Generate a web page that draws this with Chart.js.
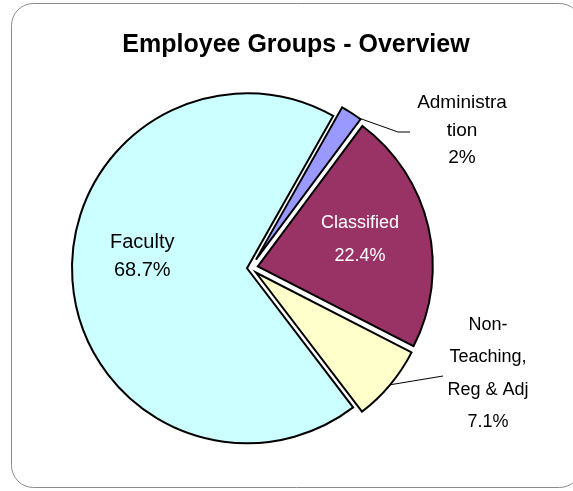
<!DOCTYPE html>
<html>
<head>
<meta charset="utf-8">
<script src="https://cdn.jsdelivr.net/npm/chart.js@4.4.1/dist/chart.umd.min.js"></script>
<style>
html, body { margin: 0; padding: 0; background: #fff; }
</style>
</head>
<body>
<canvas id="pieCanvas" width="573" height="491"></canvas>
<script>
const categories = ["Administration", "Classified", "Non-Teaching, Reg & Adj", "Faculty"];
const shares = [2, 22.4, 7.1, 68.7];
const percentLabels = ["2%", "22.4%", "7.1%", "68.7%"];
// label text as wrapped in the original
const labelLines = [
    ["Administra", "tion"],
    ["Classified"],
    ["Non-", "Teaching,", "Reg & Adj"],
    ["Faculty"]
];
const sliceColors = ["#9999FF", "#993366", "#FFFFCC", "#CCFFFF"];

const FONT = '"Liberation Sans", Arial, sans-serif';

// how far each slice is pulled out of the pie
const explodePlugin = {
    id: "explode",
    afterUpdate(chart, args, opts) {
        const meta = chart.getDatasetMeta(0);
        meta.data.forEach((arc, i) => {
            const mid = (arc.startAngle + arc.endAngle) / 2;
            const d = opts.distances[i] || 0;
            arc.x += Math.cos(mid) * d;
            arc.y += Math.sin(mid) * d;
        });
    }
};

const framePlugin = {
    id: "frame",
    beforeDraw(chart) {
        const ctx = chart.ctx;
        ctx.save();
        ctx.fillStyle = "#fff";
        ctx.fillRect(0, 0, chart.width, chart.height);
        ctx.beginPath();
        ctx.roundRect(11.5, 3.5, 570, 484, 22);
        ctx.strokeStyle = "#8c8c8c";
        ctx.lineWidth = 1;
        ctx.stroke();
        ctx.fillStyle = "#000";
        ctx.font = "bold 25px " + FONT;
        ctx.textAlign = "center";
        ctx.textBaseline = "middle";
        ctx.fillText("Employee Groups - Overview", 296, 45);
        ctx.restore();
    }
};

// per-slice label placement
const labelSetup = [
    { inside: false, dx: 211.5, dy: -165, size: 19, lh: 27.5, color: "#000",
      leaderFrac: 0.9, elbow: [147.5, -136], end: [159.5, -136] },
    { inside: true, rf: 0.6, shiftY: -3, size: 18, lh: 33, color: "#fff" },
    { inside: false, dx: 237.5, dy: 57, size: 18, lh: 32.5, color: "#000",
      leaderFrac: 0.5, end: [192.5, 108] },
    { inside: true, rf: 0.6, shiftY: -19, size: 20, lh: 28, color: "#000" }
];

const labelPlugin = {
    id: "sliceLabels",
    afterDatasetsDraw(chart) {
        const ctx = chart.ctx;
        const meta = chart.getDatasetMeta(0);
        const area = chart.chartArea;
        const cx = (area.left + area.right) / 2;
        const cy = (area.top + area.bottom) / 2;
        ctx.save();
        ctx.textAlign = "center";
        ctx.textBaseline = "middle";
        meta.data.forEach((arc, i) => {
            const cfg = labelSetup[i];
            const lines = labelLines[i].concat([percentLabels[i]]);
            ctx.font = cfg.size + "px " + FONT;
            ctx.fillStyle = cfg.color;
            if (cfg.inside) {
                const mid = (arc.startAngle + arc.endAngle) / 2;
                const r = arc.outerRadius * cfg.rf;
                const x = arc.x + Math.cos(mid) * r;
                const y = arc.y + Math.sin(mid) * r + cfg.shiftY;
                const top = y - (lines.length - 1) * cfg.lh / 2;
                lines.forEach((t, k) => ctx.fillText(t, x, top + k * cfg.lh));
            } else {
                lines.forEach((t, k) => ctx.fillText(t, cx + cfg.dx, cy + cfg.dy + k * cfg.lh));
                const a = arc.startAngle + (arc.endAngle - arc.startAngle) * cfg.leaderFrac;
                ctx.beginPath();
                ctx.moveTo(arc.x + Math.cos(a) * arc.outerRadius, arc.y + Math.sin(a) * arc.outerRadius);
                if (cfg.elbow) ctx.lineTo(cx + cfg.elbow[0], cy + cfg.elbow[1]);
                ctx.lineTo(cx + cfg.end[0], cy + cfg.end[1]);
                ctx.strokeStyle = "#000";
                ctx.lineWidth = 1;
                ctx.stroke();
            }
        });
        ctx.restore();
    }
};

const pieChart = new Chart(document.getElementById("pieCanvas"), {
    type: "pie",
    data: {
        labels: categories,
        datasets: [{
            data: shares,
            backgroundColor: sliceColors,
            borderColor: "#000",
            borderWidth: 2,
            borderJoinStyle: "miter",
            radius: 175
        }]
    },
    options: {
        responsive: false,
        animation: false,
        events: [],
        rotation: 29.5,
        layout: {
            padding: { left: 0, right: 72, top: 45, bottom: 0 }
        },
        plugins: {
            legend: { display: false },
            tooltip: { enabled: false },
            title: { display: false },
            explode: { distances: [10, 7.5, 7, 3.5] }
        }
    },
    plugins: [framePlugin, explodePlugin, labelPlugin]
});
</script>
</body>
</html>
